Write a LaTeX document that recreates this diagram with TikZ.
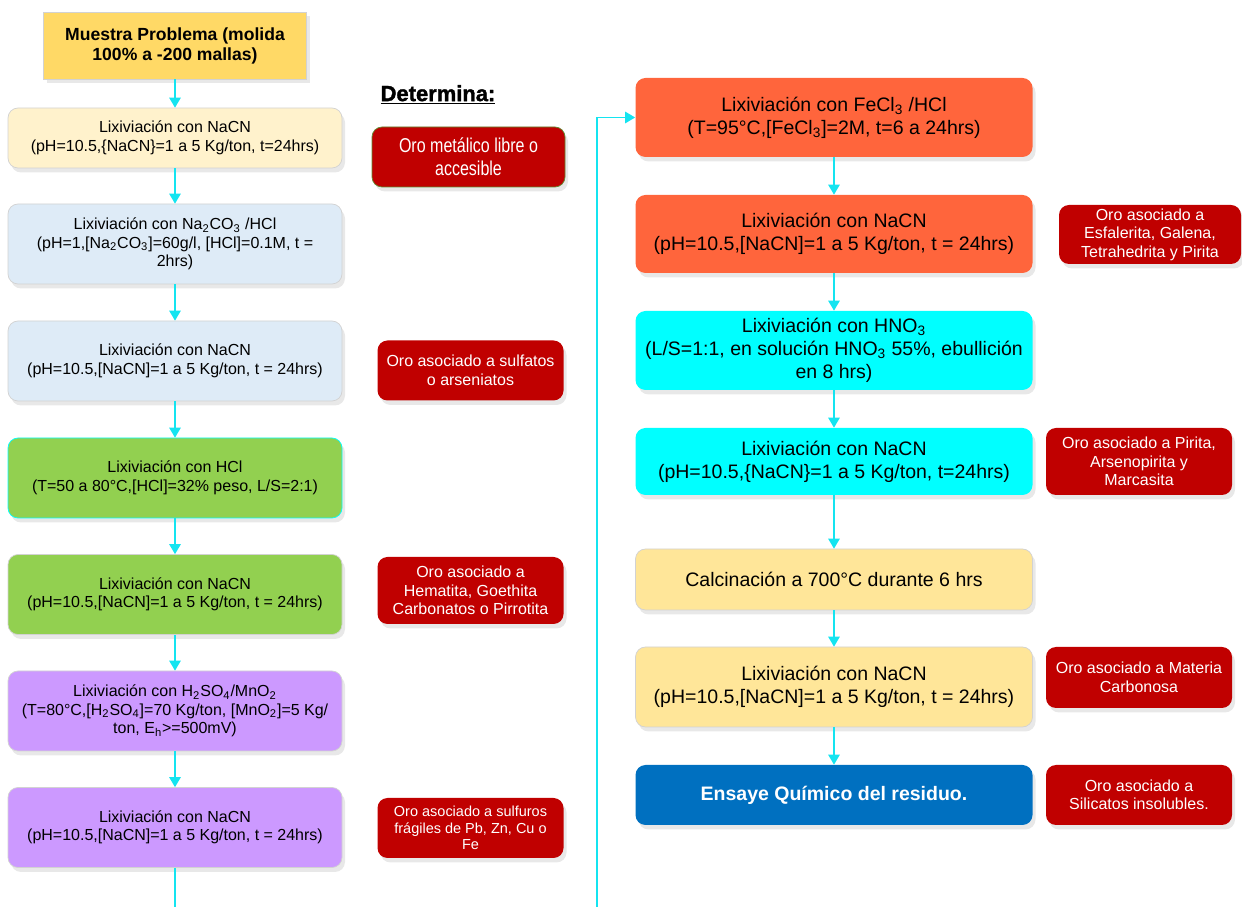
\documentclass[tikz,border=0pt]{standalone}
\usepackage{fontspec}
\setmainfont{Liberation Sans}
\newfontfamily\angosta[FakeStretch=0.8]{Liberation Sans}
\newfontfamily\negra[FakeBold=1.6]{Liberation Sans Bold}
\usetikzlibrary{arrows.meta,shadows}

\definecolor{muestra}{HTML}{FFD966}
\definecolor{crema}{HTML}{FFF2CC}
\definecolor{celeste}{HTML}{DEEBF7}
\definecolor{verde}{HTML}{92D050}
\definecolor{lila}{HTML}{CC99FF}
\definecolor{rojo}{HTML}{C00000}
\definecolor{naranja}{HTML}{FF653C}
\definecolor{cian}{HTML}{00FFFF}
\definecolor{dorado}{HTML}{FFE699}
\definecolor{azul}{HTML}{0070C0}
\definecolor{flecha}{RGB}{20,228,240}
\definecolor{olivo}{HTML}{5E8C31}

\newcommand{\Lix}{Lixiviación con}
\newcommand{\CondNaCN}{(pH=10.5,[NaCN]=1 a 5 Kg/ton, t = 24hrs)}
\newcommand{\CondNaCNb}{(pH=10.5,\{NaCN\}=1 a 5 Kg/ton, t=24hrs)}

\begin{document}
\begin{tikzpicture}[
  >={Triangle[length=2mm,width=2.3mm]},
  every edge/.style={draw=flecha, line width=0.8pt},
  caja/.style={rectangle, rounded corners=2mm, draw=gray!35, line width=0.4pt,
    align=center, inner sep=0pt,
    drop shadow={shadow xshift=0.6mm, shadow yshift=-0.9mm, opacity=0.18}},
  izq/.style={caja, minimum width=6.68cm, minimum height=1.6cm,
    font=\fontsize{9.1}{10.5}\selectfont},
  der/.style={caja, minimum width=7.94cm, minimum height=1.58cm,
    font=\fontsize{11.1}{13.1}\selectfont},
  nota/.style={caja, draw=none, fill=rojo, text=white, minimum width=3.72cm,
    minimum height=1.2cm, font=\fontsize{9.1}{10.5}\selectfont}]
\useasboundingbox (0,0) rectangle (24.84,-18.14);

% columna izquierda
\node[caja, rounded corners=0pt, fill=muestra, minimum width=5.26cm,
  minimum height=1.34cm, font=\bfseries\fontsize{10}{11.4}\selectfont]
  (Muestra) at (3.5,-0.91) {Muestra Problema (molida\\100\% a -200 mallas)};

\node[izq, fill=crema, minimum height=1.2cm] (L1) at (3.5,-2.76)
  {\Lix{} NaCN\\\CondNaCNb};
\node[izq, fill=celeste] (L2) at (3.5,-4.88)
  {\Lix{} Na\textsubscript{2}CO\textsubscript{3} /HCl\\
   (pH=1,[Na\textsubscript{2}CO\textsubscript{3}]=60g/l, [HCl]=0.1M, t =\\2hrs)};
\node[izq, fill=celeste] (L3) at (3.5,-7.22) {\Lix{} NaCN\\\CondNaCN};
\node[izq, fill=verde, draw=cian] (L4) at (3.5,-9.56)
  {\Lix{} HCl\\(T=50 a 80°C,[HCl]=32\% peso, L/S=2:1)};
\node[izq, fill=verde] (L5) at (3.5,-11.89) {\Lix{} NaCN\\\CondNaCN};
\node[izq, fill=lila] (L6) at (3.5,-14.22)
  {\Lix{} H\textsubscript{2}SO\textsubscript{4}/MnO\textsubscript{2}\\
   (T=80°C,[H\textsubscript{2}SO\textsubscript{4}]=70 Kg/ton, [MnO\textsubscript{2}]=5 Kg/\\
   ton, E\textsubscript{h}>=500mV)};
\node[izq, fill=lila] (L7) at (3.5,-16.55) {\Lix{} NaCN\\\CondNaCN};
\coordinate (finIzq) at (3.5,-18.14);

% lo que se determina
\node (Determina) at (8.76,-1.9)
  {\negra\fontsize{12.5}{14}\selectfont\underline{Determina:}};
\node[nota, draw=olivo, minimum width=3.86cm, font=\angosta\fontsize{11.4}{13.1}\selectfont]
  (Libre) at (9.37,-3.14) {Oro metálico libre o\\accesible};
\node[nota, font=\fontsize{9.1}{10.8}\selectfont] (Sulfatos) at (9.41,-7.41)
  {Oro asociado a sulfatos\\o arseniatos};
\node[nota, minimum height=1.34cm] (Hematita) at (9.41,-11.81)
  {Oro asociado a\\Hematita, Goethita\\Carbonatos o Pirrotita};
\node[nota, font=\fontsize{8.25}{9.4}\selectfont] (Sulfuros) at (9.41,-16.56)
  {Oro asociado a sulfuros\\frágiles de Pb, Zn, Cu o\\Fe};

% columna derecha
\coordinate (iniDer) at (11.94,-18.14);
\node[der, fill=naranja, draw=none] (D1) at (16.68,-2.35)
  {\Lix{} FeCl\textsubscript{3} /HCl\\(T=95°C,[FeCl\textsubscript{3}]=2M, t=6 a 24hrs)};
\node[der, fill=naranja, draw=none, minimum height=1.56cm] (D2) at (16.68,-4.68)
  {\Lix{} NaCN\\\CondNaCN};
\node[der, fill=cian, draw=none] (D3) at (16.68,-7.01)
  {\Lix{} HNO\textsubscript{3}\\
   (L/S=1:1, en solución HNO\textsubscript{3} 55\%, ebullición\\en 8 hrs)};
\node[der, fill=cian, draw=none, minimum height=1.34cm] (D4) at (16.68,-9.23)
  {\Lix{} NaCN\\\CondNaCNb};
\node[der, fill=dorado, minimum height=1.22cm] (D5) at (16.68,-11.59)
  {Calcinación a 700°C durante 6 hrs};
\node[der, fill=dorado, minimum height=1.6cm] (D6) at (16.68,-13.74)
  {\Lix{} NaCN\\\CondNaCN};
\node[der, fill=azul, draw=none, text=white, minimum height=1.2cm,
  font=\bfseries\fontsize{11.1}{13.1}\selectfont] (D7) at (16.68,-15.9)
  {Ensaye Químico del residuo.};

\node[nota, minimum width=3.64cm, minimum height=1.18cm] (Esfalerita) at (23.0,-4.69)
  {Oro asociado a\\Esfalerita, Galena,\\Tetrahedrita y Pirita};
\node[nota, minimum height=1.34cm] (Pirita) at (22.78,-9.23)
  {Oro asociado a Pirita,\\Arsenopirita y\\Marcasita};
\node[nota, minimum height=1.22cm] (Materia) at (22.78,-13.55)
  {Oro asociado a Materia\\Carbonosa};
\node[nota] (Silicatos) at (22.78,-15.9)
  {Oro asociado a\\Silicatos insolubles.};

\path[->] (Muestra) edge (L1);
\path[->] (L1) edge (L2);
\path[->] (L2) edge (L3);
\path[->] (L3) edge (L4);
\path[->] (L4) edge (L5);
\path[->] (L5) edge (L6);
\path[->] (L6) edge (L7);
\path[-] (L7) edge (finIzq);

\draw[->, draw=flecha, line width=0.8pt] (iniDer) |- (D1);
\path[->] (D1) edge (D2);
\path[->] (D2) edge (D3);
\path[->] (D3) edge (D4);
\path[->] (D4) edge (D5);
\path[->] (D5) edge (D6);
\path[->] (D6) edge (D7);
\end{tikzpicture}
\end{document}
